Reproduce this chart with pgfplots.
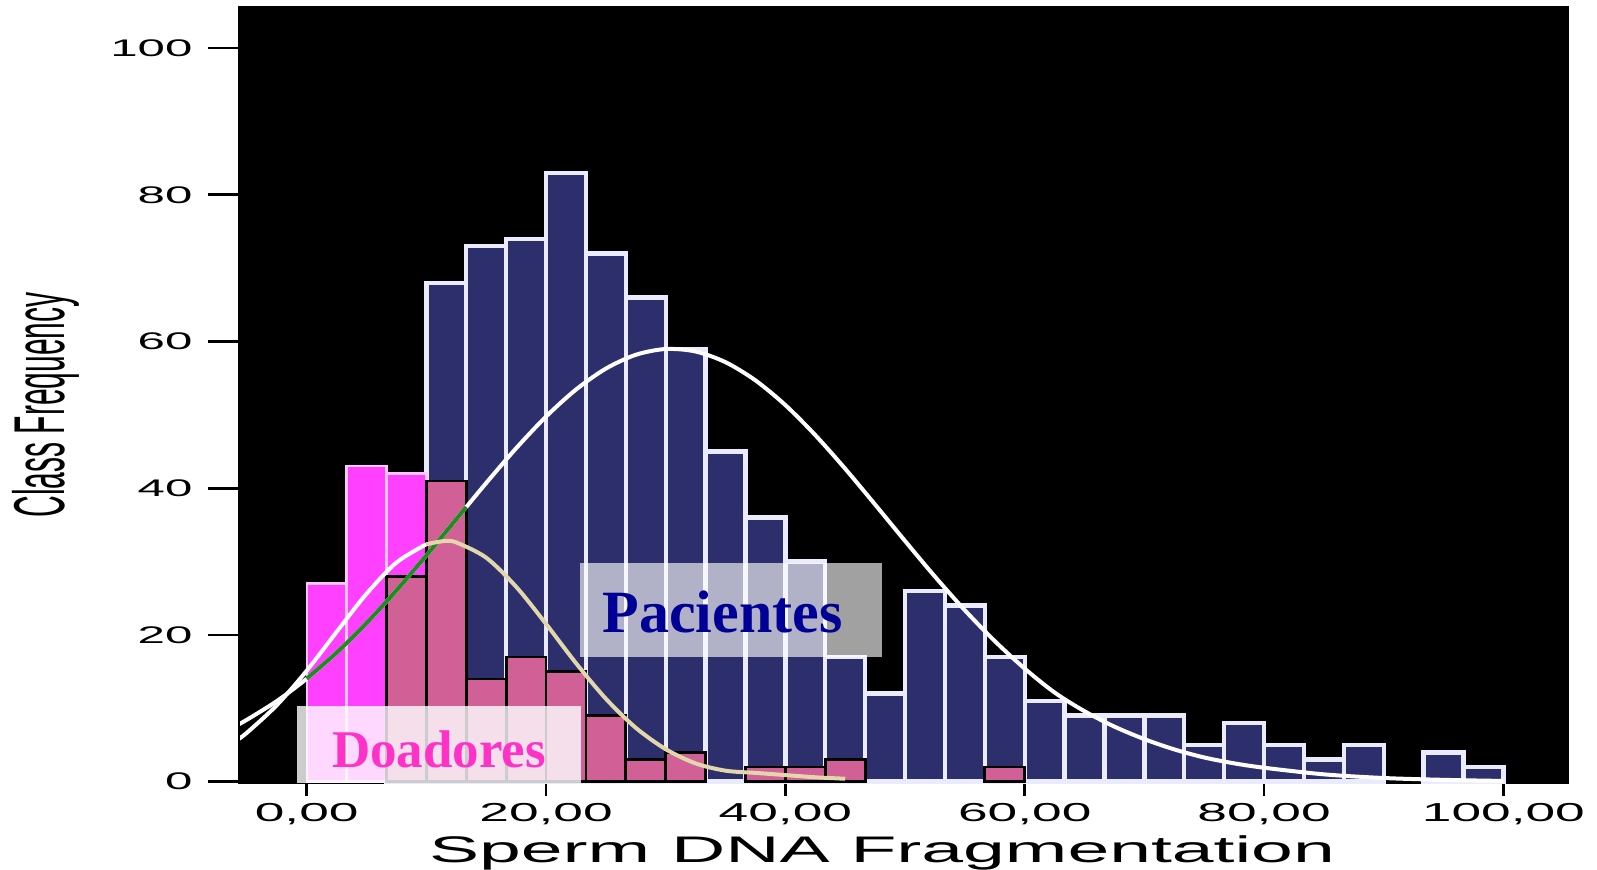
\documentclass[border=0pt]{standalone}
\usepackage{pgfplots}
\pgfplotsset{compat=1.18}
\usepackage{pgfplotstable}
\usepackage{fontspec}
\setmainfont{Liberation Sans}
\newfontfamily\tnr{Liberation Serif}
\usepackage{graphicx}

\definecolor{navybar}{RGB}{45,47,108}
\definecolor{magbar}{RGB}{255,64,255}
\definecolor{mauvebar}{RGB}{208,96,150}
\definecolor{beige}{RGB}{225,215,170}
\definecolor{greenc}{RGB}{30,140,30}
\definecolor{pacblue}{RGB}{0,0,150}
\definecolor{doapink}{RGB}{255,50,200}

% Pacientes: bin centre (bins of width 10/3) and class frequency
\pgfplotstableread{
x y
8.3333 28
11.6667 68
15 73
18.3333 74
21.6667 83
25 72
28.3333 66
31.6667 59
35 45
38.3333 36
41.6667 30
45 17
48.3333 12
51.6667 26
55 24
58.3333 17
61.6667 11
65 9
68.3333 9
71.6667 9
75 5
78.3333 8
81.6667 5
85 3
88.3333 5
95 4
98.3333 2
}\pacientes

% Doadores
\pgfplotstableread{
x y
1.6667 27
5 43
8.3333 42
11.6667 41
15 14
18.3333 17
21.6667 15
25 9
28.3333 3
31.6667 4
38.3333 2
41.6667 2
45 3
58.3333 2
}\doadores

% overlap of both histograms
\pgfplotstableread{
x y
8.3333 28
11.6667 41
15 14
18.3333 17
21.6667 15
25 9
28.3333 3
31.6667 4
38.3333 2
41.6667 2
45 3
58.3333 2
}\overlap

\begin{document}
\begin{tikzpicture}
\useasboundingbox (0,0) rectangle (798.5pt,434.5pt);
\begin{axis}[
  scale only axis, width=664.5pt, height=388pt,
  at={(119.5pt,43pt)}, anchor=south west,
  xmin=-5.66, xmax=105.4, ymin=-0.18, ymax=105.6,
  axis background/.style={fill=black},
  axis line style={black, line width=1pt},
  xtick={0,20,40,60,80,100},
  xtick pos=left,
  xticklabels={\scalebox{2.05}[1]{0,00},\scalebox{2.05}[1]{20,00},\scalebox{2.05}[1]{40,00},\scalebox{2.05}[1]{60,00},\scalebox{2.05}[1]{80,00},\scalebox{2.05}[1]{100,00}},
  xticklabel style={font=\fontsize{13}{15}\selectfont, anchor=base, yshift=-12.5pt},
  ytick=\empty,
  tick align=outside,
  major tick length=6.5pt,
  xtick style={black, line width=1.3pt},
  clip=true,
]
\addplot[ybar, bar width=3.3333, bar shift=0pt, fill=navybar, draw=white!92!blue, line width=2.2pt] table[x=x,y=y] {\pacientes};
\addplot[ybar, bar width=3.3333, bar shift=0pt, fill=magbar, draw=magbar!30!white, line width=1.2pt] table[x=x,y=y] {\doadores};
\addplot[ybar, bar width=3.3333, bar shift=0pt, fill=mauvebar, draw=black, line width=1.4pt] table[x=x,y=y] {\overlap};

% Pacientes normal curve
\addplot[white, line width=2pt, smooth] coordinates {
(-6,7.55) (-5,8.44) (-2.5,10.99) (0,14.04) (2.5,17.59) (5,21.63) (7.5,26.08) (10,30.85) (12.5,35.79) (15,40.72) (17.5,45.45) (20,49.77) (22.5,53.45) (25,56.31) (27.5,58.19) (30,58.98) (32.5,58.64) (35,57.18) (37.5,54.70) (40,51.33) (42.5,47.24) (45,42.65) (47.5,37.77) (50,32.81) (52.5,27.95) (55,23.36) (57.5,19.16) (60,15.41) (62.5,12.15) (65,9.60) (67.5,7.50) (70,5.80) (72.5,4.40) (75,3.30) (77.5,2.50) (80,1.90) (85,1.00) (90,0.50) (95,0.25) (100,0.10)};
\addplot[greenc, line width=2pt, smooth] coordinates {
(0,14.04) (2.5,17.59) (5,21.63) (7.5,26.08) (10,30.85) (12.5,35.79) (13.33,37.44)};

% Doadores normal curve
\addplot[white, line width=2pt, smooth] coordinates {
(-6,5.47) (-5,6.67) (-2.5,10.43) (0,15.13) (2.5,20.42) (5,25.62) (7.5,29.87) (10,32.37)};
\addplot[beige, line width=2pt, smooth] coordinates {
(10,32.37) (11.5,32.8) (12.5,32.61) (15,30.53) (17.5,26.57) (20,21.50) (22.5,16.16) (25,11.30) (27.5,7.34) (30,4.43) (32.5,2.49) (35,1.5) (37.5,1.2) (40,0.9) (42.5,0.6) (45,0.4)};

% labels
\fill[white, opacity=0.63] (axis cs:22.84,17.0) rectangle (axis cs:48.08,29.8);
\node[font=\tnr\bfseries\fontsize{30}{36}\selectfont, text=pacblue, anchor=base, inner sep=0pt] at (axis cs:34.75,20.4) {Pacientes};
\fill[white, opacity=0.8] (axis cs:-0.81,-0.18) rectangle (axis cs:22.88,10.32);
\node[font=\tnr\bfseries\fontsize{26.5}{30}\selectfont, text=doapink, anchor=base, inner sep=0pt] at (axis cs:11.06,2.0) {Doadores};
\end{axis}

\begin{axis}[
  scale only axis, width=664.5pt, height=388pt,
  at={(119.5pt,43pt)}, anchor=south west,
  xmin=-5.66, xmax=105.4, ymin=-0.18, ymax=105.6,
  hide x axis,
  axis y line*=left,
  y axis line style={black, line width=1pt},
  ytick={0,20,40,60,80,100},
  yticklabels={\scalebox{2.05}[1]{0},\scalebox{2.05}[1]{20},\scalebox{2.05}[1]{40},\scalebox{2.05}[1]{60},\scalebox{2.05}[1]{80},\scalebox{2.05}[1]{100}},
  yticklabel style={font=\fontsize{12}{14}\selectfont, anchor=east, inner sep=0pt, xshift=-7.6pt},
  tick align=outside,
  major tick length=15.5pt,
  ytick style={black, line width=1.3pt},
]
\end{axis}

\node[rotate=90, font=\fontsize{15}{18}\selectfont, inner sep=0pt] at (22.75pt,232pt) {\scalebox{1}[2.4]{Class Frequency}};
\node[font=\fontsize{18.5}{22}\selectfont, anchor=base, inner sep=0pt] at (441pt,3.5pt) {\scalebox{2.03}[1]{Sperm DNA Fragmentation}};
\end{tikzpicture}
\end{document}
